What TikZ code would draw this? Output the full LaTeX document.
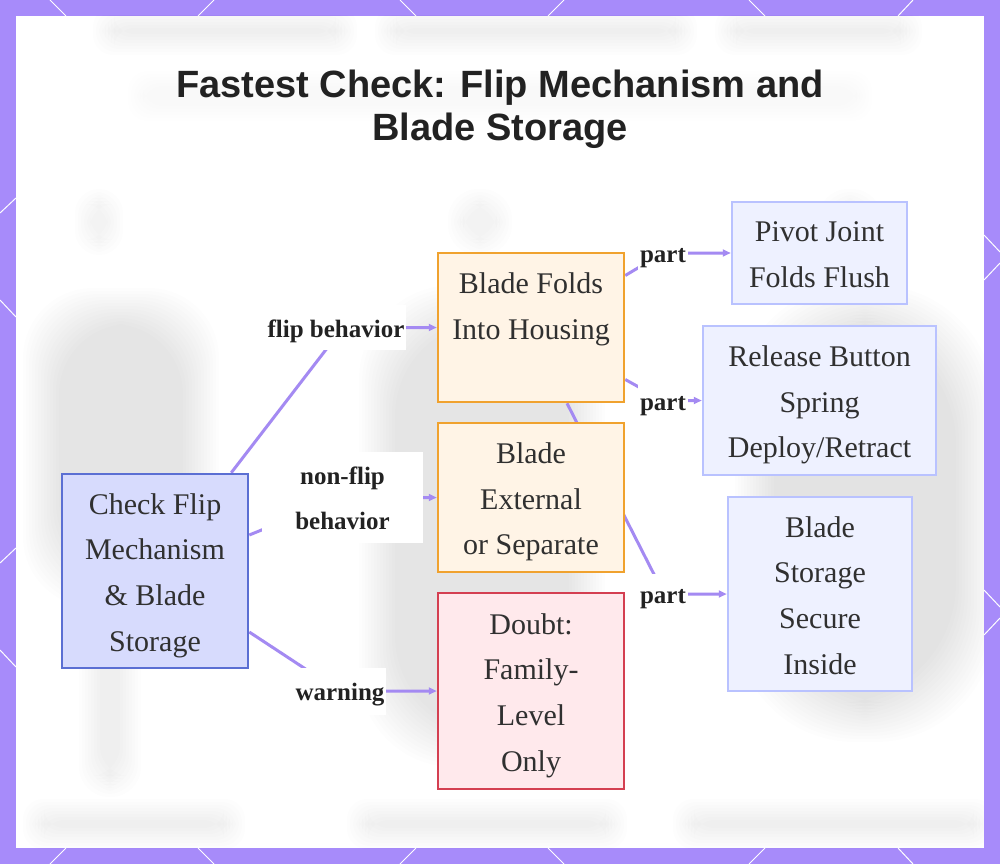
\documentclass[tikz,border=0pt]{standalone}
\usepackage{fontspec}
\setmainfont{Liberation Serif}
\newfontfamily\titlefont{Liberation Sans}
\usetikzlibrary{arrows.meta,calc}
\pgfdeclarelayer{bglayer}
\pgfdeclarelayer{edgelayer}
\pgfsetlayers{bglayer,edgelayer,main}
\definecolor{framecol}{HTML}{A78BFA}
\definecolor{edgecol}{HTML}{A48AF2}
\definecolor{txt}{HTML}{303030}
\definecolor{titletxt}{HTML}{222222}
\definecolor{chkfill}{HTML}{D7DBFD}
\definecolor{chkline}{HTML}{5B6FD3}
\definecolor{orfill}{HTML}{FFF4E6}
\definecolor{orline}{HTML}{F0A22E}
\definecolor{redfill}{HTML}{FFE9EC}
\definecolor{redline}{HTML}{D43F51}
\definecolor{bluefill}{HTML}{EEF1FF}
\definecolor{blueline}{HTML}{B9C2FF}
\newcommand{\Ls}[1]{\strut\raisebox{-2.5pt}{#1}}
\newcommand{\Lt}[1]{\strut #1}
\newcommand{\Lb}[1]{\raisebox{-4pt}[17.5pt][6.25pt]{#1}}
% soft blob: x1 y1 x2 y2 radius layers opacity
\newcommand{\blob}[7]{\foreach \i in {1,...,#6}{\fill[black,opacity=#7,rounded corners=#5] ({#1+\i*3},{#2+\i*3}) rectangle ({#3-\i*3},{#4-\i*3});}}
\begin{document}
\begin{tikzpicture}[x=1pt,y=-1pt,
  box/.style={draw, line width=2.5pt, rectangle, inner sep=0pt, align=center, text=txt, font=\fontsize{30}{45.7}\selectfont},
  chkbox/.style={box, fill=chkfill, draw=chkline},
  orbox/.style={box, fill=orfill, draw=orline},
  redbox/.style={box, fill=redfill, draw=redline},
  bluebox/.style={box, fill=bluefill, draw=blueline},
  edge/.style={draw=edgecol, line width=3pt, -{Triangle[length=8pt,width=7pt]}},
  lbl/.style={fill=white, text=titletxt, inner xsep=2pt, inner ysep=0pt, minimum height=45pt, align=center, font=\bfseries\fontsize{25}{45}\selectfont},
  hexline/.style={draw=white, line width=1pt}]
\useasboundingbox (0,0) rectangle (1000,864);

\begin{pgfonlayer}{bglayer}
  \fill[framecol] (0,0) rectangle (1000,864);
  % hexagon pattern in the frame
  \draw[hexline] (50,0) -- (66,16);   \draw[hexline] (214,0) -- (198,16);
  \draw[hexline] (400,0) -- (416,16); \draw[hexline] (564,0) -- (548,16);
  \draw[hexline] (749,0) -- (765,16); \draw[hexline] (913,0) -- (898,16);
  \draw[hexline] (50,864) -- (66,848);   \draw[hexline] (214,864) -- (198,848);
  \draw[hexline] (400,864) -- (416,848); \draw[hexline] (564,864) -- (548,848);
  \draw[hexline] (749,864) -- (765,848); \draw[hexline] (913,864) -- (898,848);
  \draw[hexline] (0,213) -- (16,198); \draw[hexline] (0,300) -- (16,317);
  \draw[hexline] (0,563) -- (16,548); \draw[hexline] (0,650) -- (16,667);
  \draw[hexline] (984,235) -- (1000,252); \draw[hexline] (1000,263) -- (984,280);
  \draw[hexline] (984,590) -- (1000,607); \draw[hexline] (1000,618) -- (984,635);
  \fill[white] (16,16) rectangle (984,848);
  % blurred background picture
  \begin{scope}
    \clip (16,16) rectangle (984,848);
    \blob{90}{4}{360}{58}{20}{8}{0.008}
    \blob{372}{4}{700}{58}{20}{8}{0.008}
    \blob{712}{4}{925}{58}{20}{8}{0.008}
    \blob{125}{68}{875}{124}{20}{6}{0.005}
    \blob{72}{186}{126}{258}{24}{6}{0.006}
    \blob{445}{186}{515}{258}{30}{6}{0.006}
    \blob{815}{186}{885}{258}{30}{6}{0.006}
    \blob{20}{285}{222}{610}{70}{13}{0.009}
    \blob{76}{585}{144}{800}{30}{8}{0.007}
    \blob{356}{282}{608}{770}{95}{13}{0.009}
    \blob{732}{282}{998}{745}{120}{14}{0.009}
    \blob{20}{796}{248}{852}{20}{8}{0.008}
    \blob{344}{796}{630}{852}{20}{8}{0.008}
    \blob{670}{796}{998}{852}{20}{8}{0.008}
  \end{scope}
\end{pgfonlayer}

% title
\node[align=center, text=titletxt, font=\titlefont\bfseries\fontsize{38}{43}\selectfont] (title) at (500,110.5)
  {\Lt{Fastest Check: Flip Mechanism and}\\\Lt{Blade Storage}};

% nodes
\node[chkbox, minimum width=186pt, minimum height=194pt] (chk) at (155,571)
  {\Ls{Check Flip}\\\Ls{Mechanism}\\\Ls{\& Blade}\\\Ls{Storage}};
\node[orbox, minimum width=186pt, minimum height=149pt] (bf) at (531,327.5)
  {\Ls{Blade Folds}\\\Ls{Into Housing}\\\Ls{}};
\node[orbox, minimum width=186pt, minimum height=149pt] (be) at (531,497.5)
  {\Ls{Blade}\\\Ls{External}\\\Ls{or Separate}};
\node[redbox, minimum width=186pt, minimum height=196pt] (dbt) at (531,691)
  {\Ls{Doubt:}\\\Ls{Family-}\\\Ls{Level}\\\Ls{Only}};
\node[bluebox, minimum width=175pt, minimum height=102pt] (pj) at (819.5,253)
  {\Ls{Pivot Joint}\\\Ls{Folds Flush}};
\node[bluebox, minimum width=233pt, minimum height=149pt] (rb) at (819.5,400.5)
  {\Ls{Release Button}\\\Ls{Spring}\\\Ls{Deploy/Retract}};
\node[bluebox, minimum width=184pt, minimum height=194pt] (bs) at (820,594)
  {\Ls{Blade}\\\Ls{Storage}\\\Ls{Secure}\\\Ls{Inside}};

% edges and labels
\begin{pgfonlayer}{edgelayer}
  \coordinate (c1) at (343,327.5);
  \coordinate (c2) at (342,497.5);
  \coordinate (c3) at (339,691);
  \coordinate (c4) at (663,253);
  \coordinate (c5) at (663,400.5);
  \coordinate (c6) at (664,594);
  \draw[edge] ([xshift=-18pt]chk.north east) -- (c1) -- (bf.west);
  \draw[edge] ([yshift=36pt]chk.east) -- (c2) -- (be.west);
  \draw[edge] ([yshift=-61pt]chk.east) -- (c3) -- (dbt.west);
  \draw[edge] ([yshift=52pt]bf.east) -- (c4) -- (pj.west);
  \draw[edge] ([yshift=-52pt]bf.east) -- (c5) -- (rb.west);
  \draw[edge] ([xshift=36pt]bf.south) -- (c6) -- (bs.west);
  \node[lbl] (l1) at (336,327.5) {\Lb{flip behavior}};
  \node[lbl, minimum width=161pt, minimum height=91pt] (l2) at (342.5,497.5) {\Lb{non-flip}\\\Lb{behavior}};
  \node[lbl, minimum height=47pt] (l3) at (340,691) {\Lb{warning}};
  \node[lbl, minimum height=40pt] (l4) at (663,253) {\Lb{part}};
  \node[lbl, minimum height=40pt] (l5) at (663,401) {\Lb{part}};
  \node[lbl, minimum height=40pt] (l6) at (663,594) {\Lb{part}};
\end{pgfonlayer}
\end{tikzpicture}
\end{document}
